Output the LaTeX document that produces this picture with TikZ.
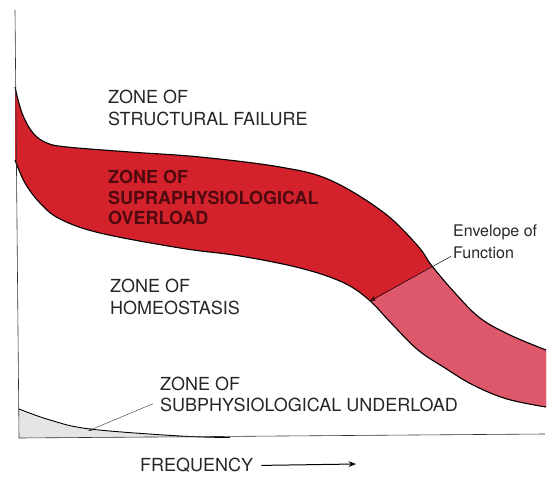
\documentclass[tikz,border=0pt]{standalone}
\usepackage{fontspec}
\setmainfont{TeX Gyre Heros}
\usetikzlibrary{arrows.meta}

\definecolor{bandred}{RGB}{212,34,44}
\definecolor{bandpink}{RGB}{222,88,108}
\definecolor{overtext}{RGB}{78,10,14}

\begin{document}
\begin{tikzpicture}[
  x=1pt, y=-1pt,
  boundary/.style={line width=1.1pt, black},
  axisline/.style={line width=0.6pt, black!80},
  zonelabel/.style={anchor=north west, inner sep=0pt, align=left, text=black!85, font=\fontsize{18}{21.5}\selectfont},
  pointer/.style={line width=0.5pt},
  >={Stealth[length=2.6mm, width=2mm]}
]
\useasboundingbox (0,0) rectangle (550,477);

% envelope of function band
\fill[bandred] (15,87) -- plot[smooth, tension=0.6] coordinates {(15,87) (22,113) (33,133) (47,143) (67,147) (130,152) (200,157) (280,167) (330,180) (383,212) (417,245) (432,266) (455,293) (480,318) (510,335) (546,350)}
  -- plot[smooth, tension=0.6] coordinates {(546,407) (507,399) (473,385) (445,368) (418,350) (392,324) (368,299) (342,282) (300,268) (240,256) (180,248) (100,233) (60,219) (40,203) (25,183) (15,160)} -- cycle;
\begin{scope}
  \clip (15,87) -- plot[smooth, tension=0.6] coordinates {(15,87) (22,113) (33,133) (47,143) (67,147) (130,152) (200,157) (280,167) (330,180) (383,212) (417,245) (432,266) (455,293) (480,318) (510,335) (546,350)}
    -- plot[smooth, tension=0.6] coordinates {(546,407) (507,399) (473,385) (445,368) (418,350) (392,324) (368,299) (342,282) (300,268) (240,256) (180,248) (100,233) (60,219) (40,203) (25,183) (15,160)} -- cycle;
  \fill[bandpink] (520,215) -- (300,343) -- (560,480) -- (560,200) -- cycle;
\end{scope}

% upper and lower limits
\draw[boundary] plot[smooth, tension=0.6] coordinates {(15,87) (22,113) (33,133) (47,143) (67,147) (130,152) (200,157) (280,167) (330,180) (383,212) (417,245) (432,266) (455,293) (480,318) (510,335) (546,350)};
\draw[boundary] plot[smooth, tension=0.6] coordinates {(15,160) (25,183) (40,203) (60,219) (100,233) (180,248) (240,256) (300,268) (342,282) (368,299) (392,324) (418,350) (445,368) (473,385) (507,399) (546,407)};

% underload region
\fill[black!10] (19,409) -- plot[smooth, tension=0.6] coordinates {(19,409) (50,420) (90,429) (180,436) (230,437.5)} -- (19,438) -- cycle;
\draw[boundary, line width=0.9pt] plot[smooth, tension=0.6] coordinates {(19,409) (50,420) (90,429) (180,436) (230,437.5)};

% axes
\draw[axisline] (15,10) -- (19,438);
\draw[axisline] (19,438) -- (545,434);

% labels
\node[zonelabel] (failure) at (108,90) {ZONE OF\\STRUCTURAL FAILURE};
\node[zonelabel, text=overtext, font=\fontsize{18}{20.5}\selectfont\bfseries] (overload) at (108,170) {ZONE OF\\SUPRAPHYSIOLOGICAL\\OVERLOAD};
\node[zonelabel] (homeo) at (110,279) {ZONE OF\\HOMEOSTASIS};
\node[zonelabel, font=\fontsize{18}{20.5}\selectfont] (underload) at (160,377) {ZONE OF\\SUBPHYSIOLOGICAL UNDERLOAD};
\node[zonelabel, font=\fontsize{16}{22}\selectfont] (envelope) at (453,225) {Envelope of\\Function};
\node[zonelabel] (freq) at (140,458) {FREQUENCY};

\coordinate (envtip) at (370,301);
\coordinate (subtip) at (88,431);
\coordinate (freqend) at (356,464);

% pointers
\draw[pointer, -{Stealth[length=2mm, width=1.6mm, fill=bandred!70!black]}] ([xshift=-2pt, yshift=3pt]envelope.south west) -- (envtip);
\draw[pointer, black!70, -{Stealth[length=1.6mm]}] ([xshift=-7pt, yshift=8pt]underload.south west) -- (subtip);
\draw[line width=1pt, ->] ([xshift=8pt]freq.east) -- (freqend);

\end{tikzpicture}
\end{document}
